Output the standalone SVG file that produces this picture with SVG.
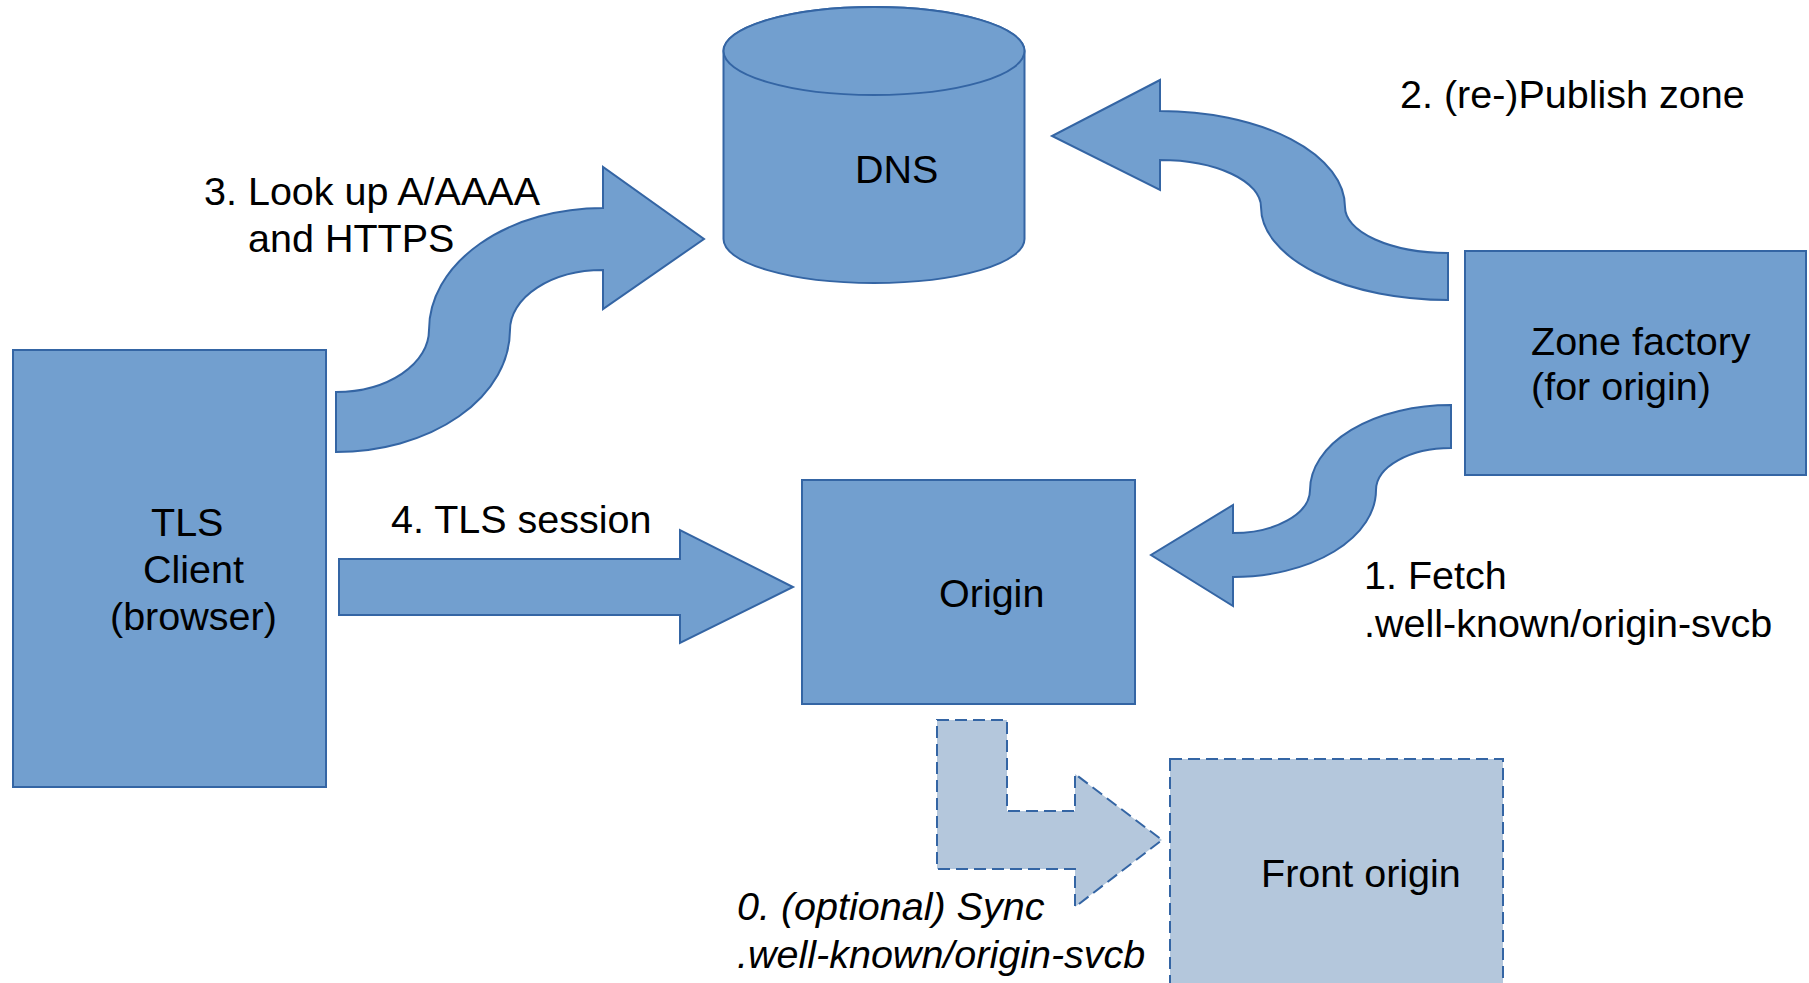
<svg xmlns="http://www.w3.org/2000/svg" width="1809" height="983" viewBox="0 0 1809 983">
<style>
.n{fill:#729fcf;stroke:#3465a4;stroke-width:2}
.l{fill:#b4c7dc;stroke:#3465a4;stroke-width:2;stroke-dasharray:12 6}
text{font-family:"Liberation Sans",Arial,sans-serif;font-size:39.5px;fill:#000}
.i{font-style:italic}
</style>
<rect width="1809" height="983" fill="#fff"/>
<g id="connectors">
<path id="arrow-lookup" class="n" d="M336,392 A93,62 0 0 0 429,330 A174,122 0 0 1 603,208 L603,167 L704,239 L603,309 L603,270 A93,60 0 0 0 510,330 A174,122 0 0 1 336,452 Z"/>
<path id="arrow-publish" class="n" d="M1448,253 A103,46 0 0 1 1345,207 A185,96 0 0 0 1160,111 L1160,80 L1052,136 L1160,190 L1160,160 A101,47 0 0 1 1261,207 A187,93 0 0 0 1448,300 Z"/>
<path id="arrow-fetch" class="n" d="M1451,405 A141,85 0 0 0 1310,490 A77,43 0 0 1 1233,533 L1233,505 L1151,555 L1233,606 L1233,577 A143,87 0 0 0 1376,490 A75,42 0 0 1 1451,448 Z"/>
<path id="arrow-tls" class="n" d="M339,559 L680,559 L680,530 L793,587 L680,643 L680,615 L339,615 Z"/>
<path id="arrow-sync" class="l" d="M937,720 L1007,720 L1007,811 L1075,811 L1075,774 L1162,840 L1075,907 L1075,869 L937,869 Z"/>
</g>
<g id="dns">
<path class="n" d="M723.5,51 A150.5,44 0 0 1 1024.5,51 L1024.5,239 A150.5,44 0 0 1 723.5,239 Z"/>
<ellipse class="n" cx="874" cy="51" rx="150.5" ry="44"/>
<text x="855" y="183">DNS</text>
</g>
<g id="client">
<rect class="n" x="13" y="350" width="313" height="437"/>
<text x="151" y="536">TLS</text>
<text x="143" y="583">Client</text>
<text x="110" y="630">(browser)</text>
</g>
<g id="zone-factory">
<rect class="n" x="1465" y="251" width="341" height="224"/>
<text x="1531" y="355">Zone factory</text>
<text x="1531" y="400">(for origin)</text>
</g>
<g id="origin">
<rect class="n" x="802" y="480" width="333" height="224"/>
<text x="939" y="607">Origin</text>
</g>
<g id="front-origin">
<rect class="l" x="1170" y="759" width="333" height="240"/>
<text x="1261" y="887">Front origin</text>
</g>
<g id="labels">
<text x="1400" y="108">2. (re-)Publish zone</text>
<text x="204" y="205">3. Look up A/AAAA</text>
<text x="248" y="252">and HTTPS</text>
<text x="391" y="533">4. TLS session</text>
<text x="1364" y="589">1. Fetch</text>
<text x="1364" y="637">.well-known/origin-svcb</text>
<text class="i" x="737" y="920">0. (optional) Sync</text>
<text class="i" x="737" y="968">.well-known/origin-svcb</text>
</g>
</svg>
